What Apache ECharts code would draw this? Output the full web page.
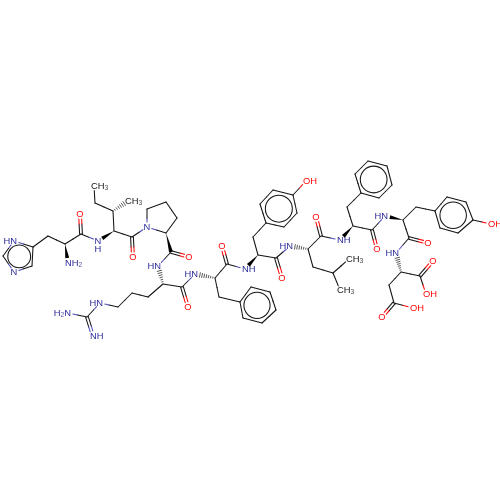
<!DOCTYPE html>
<html><head><meta charset="utf-8">
<style>html,body{margin:0;padding:0;background:#fff}#c{width:500px;height:500px}</style>
<script src="https://cdn.jsdelivr.net/npm/echarts@6/dist/echarts.min.js"></script>
</head><body><div id="c"></div>
<script>
// atoms per residue: [id, x, y, label]
const histidine = [['hNd',14,241,'HN'],['hCe',3,256,''],['hNe',14,272,'N'],['hCg',33,247,''],['hCd',32,266,''],['hCb',48,236,''],['hCa',65,244,''],['hN',68,263,'NH2'],['hC',81,234,''],['hO',80,214,'O']];
const isoleucine = [['iN',98,241,'N\nH'],['iCa',114,231,''],['iCb',113,211,''],['iCm',128,201,'CH3'],['iCg',95,203,''],['iCd',94,186,'CH3'],['iC',132,237,''],['iO',133,257,'O']];
const proline = [['pN',147,227,'N'],['pCd',147,209,''],['pCg',166,202,''],['pCb',177,218,''],['pCa',166,233,''],['pC',171,252,''],['pO',189,257,'O']];
const arginine = [['rN',158,266,'HN'],['rCa',163,284,''],['rC',182,287,''],['rO',188,307,'O'],['rCb',148,297,''],['rCg',132,293,''],['rCd',118,307,''],['rNe',100,303,'HN'],['rCz',87,317,''],['rNh1',68,313,'H2N'],['rNh2',93,336,'NH']];
const phenylalanineA = [['fN',195,274,'HN'],['fCa',215,278,''],['fC',227,264,''],['fO',222,246,'O'],['fCb',219,297,''],['f1',240,302,''],['f2',251,287,''],['f3',270,292,''],['f4',276,310,''],['f5',262,323,''],['f6',243,318,'']];
const tyrosineA = [['yN',245,269,'NH'],['yCa',258,255,''],['yC',276,258,''],['yO',282,278,'O'],['yCb',253,237,''],['y1',266,223,''],['y2',260,204,''],['y3',273,190,''],['y4',293,195,''],['y5',297,213,''],['y6',284,227,''],['yOH',306,181,'OH']];
const leucine = [['lN',290,246,'HN'],['lCa',308,249,''],['lC',321,236,''],['lO',316,217,'O'],['lCb',313,267,''],['lCg',333,273,''],['lCd1',349,259,'CH3'],['lCd2',340,290,'CH3']];
const phenylalanineB = [['gN',340,240,'NH'],['gCa',353,226,''],['gC',372,230,''],['gO',377,249,'O'],['gCb',347,207,''],['g1',361,193,''],['g2',355,174,''],['g3',368,161,''],['g4',387,166,''],['g5',392,185,''],['g6',379,198,'']];
const tyrosineB = [['zN',385,216,'HN'],['zCa',403,220,''],['zC',409,238,''],['zO',428,243,'O'],['zCb',416,207,''],['z1',435,211,''],['z2',447,197,''],['z3',466,202,''],['z4',473,220,''],['z5',458,233,''],['z6',440,228,''],['zOH',491,224,'OH']];
const aspartate = [['dN',396,253,'HN'],['dCa',401,272,''],['dC',420,276,''],['dO',433,261,'O'],['dOH',426,294,'OH'],['dCb',389,285,''],['dCg',394,303,''],['dOd',382,317,'O'],['dOHd',413,308,'OH']];

const singleBonds = [
 ['hNd','hCe'],['hCe','hNe'],['hNe','hCd'],['hCd','hCg'],['hCg','hNd'],['hCg','hCb'],['hCb','hCa'],['hCa','hC'],['hC','iN'],
 ['iCa','iCb'],['iCb','iCg'],['iCg','iCd'],['iCa','iC'],['iC','pN'],
 ['pN','pCd'],['pCd','pCg'],['pCg','pCb'],['pCb','pCa'],['pCa','pN'],['pC','rN'],
 ['rCa','rC'],['rCa','rCb'],['rCb','rCg'],['rCg','rCd'],['rCd','rNe'],['rNe','rCz'],['rCz','rNh1'],['rC','fN'],
 ['fCa','fC'],['fCa','fCb'],['fCb','f1'],['f1','f2'],['f2','f3'],['f3','f4'],['f4','f5'],['f5','f6'],['f6','f1'],['fC','yN'],
 ['yCa','yC'],['yCa','yCb'],['yCb','y1'],['y1','y2'],['y2','y3'],['y3','y4'],['y4','y5'],['y5','y6'],['y6','y1'],['y4','yOH'],['yC','lN'],
 ['lCa','lC'],['lCa','lCb'],['lCb','lCg'],['lCg','lCd1'],['lCg','lCd2'],['lC','gN'],
 ['gCa','gC'],['gCa','gCb'],['gCb','g1'],['g1','g2'],['g2','g3'],['g3','g4'],['g4','g5'],['g5','g6'],['g6','g1'],['gC','zN'],
 ['zCa','zC'],['zCa','zCb'],['zCb','z1'],['z1','z2'],['z2','z3'],['z3','z4'],['z4','z5'],['z5','z6'],['z6','z1'],['z4','zOH'],['zC','dN'],
 ['dCa','dC'],['dCa','dCb'],['dCb','dCg'],['dC','dOH'],['dCg','dOHd']
];
const doubleBonds = [['hC','hO'],['iC','iO'],['pC','pO'],['rC','rO'],['rCz','rNh2'],['fC','fO'],['yC','yO'],['lC','lO'],['gC','gO'],['zC','zO'],['dC','dO'],['dCg','dOd']];
const wedgeBonds = [['hCa','hN'],['iCa','iN'],['pCa','pC'],['yCa','yN'],['gCa','gN'],['zCa','zN']];
const hashBonds = [['iCb','iCm'],['rCa','rN'],['fCa','fN'],['lCa','lN'],['dCa','dN']];
const aromaticRings = [
 ['hNd','hCe','hNe','hCd','hCg'],['f1','f2','f3','f4','f5','f6'],['y1','y2','y3','y4','y5','y6'],
 ['g1','g2','g3','g4','g5','g6'],['z1','z2','z3','z4','z5','z6']
];

const allAtoms = [].concat(histidine,isoleucine,proline,arginine,phenylalanineA,tyrosineA,leucine,phenylalanineB,tyrosineB,aspartate);
const atomById = Object.fromEntries(allAtoms.map(a=>[a[0],a]));
const BLACK='#141414', BLUE='#2a2a9a', PALEBLUE='#4e4eb8', RED='#ff0808';
function tint(a){const l=a[3]; if(!l) return BLACK; if(l.startsWith('CH')) return BLACK; return l.includes('O')?RED:PALEBLUE;}
function gap(a){const l=a[3]; return l?(l.startsWith('CH')?4.5:5):0;}

const bondData=[];
singleBonds.forEach(b=>bondData.push({k:'s',a:b[0],b:b[1]}));
doubleBonds.forEach(b=>bondData.push({k:'d',a:b[0],b:b[1]}));
wedgeBonds.forEach(b=>bondData.push({k:'w',a:b[0],b:b[1]}));
hashBonds.forEach(b=>bondData.push({k:'h',a:b[0],b:b[1]}));

function seg(x1,y1,x2,y2,color,w){return {type:'line',shape:{x1,y1,x2,y2},style:{stroke:color,lineWidth:w||1.05,lineCap:'round'}};}
function renderBond(params,api){
 const d=bondData[params.dataIndex], A=atomById[d.a], B=atomById[d.b];
 const pa=api.coord([A[1],A[2]]), pb=api.coord([B[1],B[2]]);
 let dx=pb[0]-pa[0],dy=pb[1]-pa[1]; const L=Math.hypot(dx,dy); dx/=L;dy/=L;
 const ga=gap(A),gb=gap(B);
 const s=[pa[0]+dx*ga,pa[1]+dy*ga], e=[pb[0]-dx*gb,pb[1]-dy*gb];
 const nx=-dy,ny=dx, m=[(pa[0]+pb[0])/2,(pa[1]+pb[1])/2];
 const ch=[];
 const pair=(o)=>{
  ch.push(seg(s[0]+nx*o,s[1]+ny*o,m[0]+nx*o,m[1]+ny*o,tint(A)));
  ch.push(seg(m[0]+nx*o,m[1]+ny*o,e[0]+nx*o,e[1]+ny*o,tint(B)));
 };
 if(d.k==='s') pair(0);
 else if(d.k==='d'){pair(1.4);pair(-1.4);}
 else if(d.k==='w'){
  const w=2;
  ch.push({type:'polygon',shape:{points:[pa,[e[0]+nx*w,e[1]+ny*w],[e[0]-nx*w,e[1]-ny*w]]},style:{fill:'#000'}});
 } else {
  const len=Math.hypot(e[0]-pa[0],e[1]-pa[1]), n=Math.max(4,Math.round(len/2.2));
  for(let i=1;i<=n;i++){const t=i/n,cx=pa[0]+(e[0]-pa[0])*t,cy=pa[1]+(e[1]-pa[1])*t,w=0.3+t*2;
   ch.push(seg(cx+nx*w,cy+ny*w,cx-nx*w,cy-ny*w,'#222',0.75));}
 }
 return {type:'group',children:ch};
}
function renderRing(params,api){
 const ids=aromaticRings[params.dataIndex];
 const pts=ids.map(i=>api.coord([atomById[i][1],atomById[i][2]]));
 const cx=pts.reduce((s,p)=>s+p[0],0)/pts.length, cy=pts.reduce((s,p)=>s+p[1],0)/pts.length;
 const r=pts.reduce((s,p)=>s+Math.hypot(p[0]-cx,p[1]-cy),0)/pts.length*0.7;
 return {type:'circle',shape:{cx,cy,r},style:{fill:'none',stroke:BLACK,lineWidth:1.05}};
}
const labelled=allAtoms.filter(a=>a[3]);
const CW=3.1;
function renderLabel(params,api){
 const a=labelled[params.dataIndex], p=api.coord([a[1],a[2]]), l=a[3];
 const color=l.includes('O')?RED:(l.startsWith('CH')?BLACK:BLUE);
 const right=(l==='HN'||l==='H2N');
 const stack=l.includes('\n');
 const align=stack||l.length===1?'center':(right?'right':'left');
 const x=align==='center'?p[0]:(right?p[0]+CW:p[0]-CW);
 const txt=l.split('').map(c=>c==='2'||c==='3'?'{s|'+c+'}':c==='\n'?'\n':'{m|'+c+'}').join('');
 return {type:'text',x:x,y:stack?p[1]+4:p[1],style:{
   text:txt,align:align,verticalAlign:'middle',
   rich:{m:{fontFamily:'Liberation Sans',fontSize:9.4,fill:color,lineHeight:8,verticalAlign:'top',padding:[0,0,0,0]},
         s:{fontFamily:'Liberation Sans',fontSize:6.8,fill:color,lineHeight:8,verticalAlign:'top',padding:[3,0,0,0],opacity:0.8}}}};
}
const chart=echarts.init(document.getElementById('c'),null,{renderer:'canvas',width:500,height:500});
chart.setOption({
 animation:false,backgroundColor:'#fff',
 grid:{left:0,right:0,top:0,bottom:0},
 xAxis:{type:'value',min:0,max:500,show:false},
 yAxis:{type:'value',min:0,max:500,inverse:true,show:false},
 series:[
  {type:'custom',silent:true,clip:false,renderItem:renderBond,data:bondData.map(d=>[atomById[d.a][1],atomById[d.a][2],atomById[d.b][1],atomById[d.b][2]])},
  {type:'custom',silent:true,clip:false,renderItem:renderRing,data:aromaticRings.map(r=>[atomById[r[0]][1],atomById[r[0]][2]])},
  {type:'custom',silent:true,clip:false,renderItem:renderLabel,data:labelled.map(a=>[a[1],a[2]])}
 ]
});
</script></body></html>
